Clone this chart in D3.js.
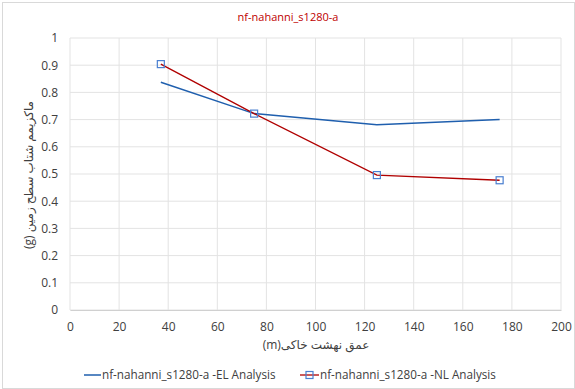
<!DOCTYPE html>
<html>
<head>
<meta charset="utf-8">
<script src="https://cdn.jsdelivr.net/npm/d3@7"></script>
<style>
  body { margin: 0; background: #fff; }
  text { font-family: "Open Sans", "DejaVu Sans", sans-serif; }
</style>
</head>
<body>
<div id="chart"></div>
<script>
const width = 575;
const height = 389;

// datos
const depths = [37, 75, 125, 175];
const elValues = [0.837, 0.722, 0.681, 0.700];
const nlValues = [0.904, 0.722, 0.496, 0.477];
const xTicks = [0, 20, 40, 60, 80, 100, 120, 140, 160, 180, 200];
const yTicks = [0, 0.1, 0.2, 0.3, 0.4, 0.5, 0.6, 0.7, 0.8, 0.9, 1];
const titleText = "nf-nahanni_s1280-a";
const elName = "nf-nahanni_s1280-a -EL Analysis";
const nlName = "nf-nahanni_s1280-a -NL Analysis";

const margin = { left: 70, right: 14, top: 38, bottom: 79 };

const svg = d3.select("#chart")
    .append("svg")
    .attr("width", width)
    .attr("height", height);

// marco exterior
svg.append("rect")
    .attr("x", 2.5).attr("y", 2.5)
    .attr("width", width - 3).attr("height", height - 3)
    .attr("fill", "#fff")
    .attr("stroke", "#d9d9d9");

const x = d3.scaleLinear().domain([0, 200]).range([margin.left, width - margin.right]);
const y = d3.scaleLinear().domain([0, 1]).range([height - margin.bottom, margin.top]);

// rejilla
svg.append("g")
    .selectAll("line.v")
    .data(xTicks)
    .enter()
    .append("line")
    .attr("x1", d => x(d)).attr("x2", d => x(d))
    .attr("y1", y(0)).attr("y2", y(1))
    .attr("stroke", "#e3e3e3");

svg.append("g")
    .selectAll("line.h")
    .data(yTicks)
    .enter()
    .append("line")
    .attr("x1", x(0)).attr("x2", x(200))
    .attr("y1", d => y(d)).attr("y2", d => y(d))
    .attr("stroke", "#e3e3e3");

// ejes
const xAxis = svg.append("g")
    .attr("transform", `translate(0,${y(0)})`)
    .call(d3.axisBottom(x).tickValues(xTicks).tickSize(0).tickPadding(12));
xAxis.select(".domain").attr("stroke", "#d0d0d0");
xAxis.selectAll("text").attr("font-size", 12).attr("fill", "#404040");

const yAxis = svg.append("g")
    .attr("transform", `translate(${x(0)},0)`)
    .call(d3.axisLeft(y).tickValues(yTicks).tickFormat(d => d3.format("")(d)).tickSize(0).tickPadding(12));
yAxis.select(".domain").remove();
yAxis.selectAll("text").attr("font-size", 12).attr("fill", "#404040");

// titulo
svg.append("text")
    .attr("x", 288).attr("y", 21)
    .attr("text-anchor", "middle")
    .attr("font-size", 11)
    .attr("fill", "#c00000")
    .text(titleText);

// titulos de ejes (texto persa, derecha a izquierda)
svg.append("text")
    .attr("x", 316).attr("y", 349)
    .attr("text-anchor", "middle")
    .attr("direction", "rtl")
    .attr("font-size", 12)
    .attr("fill", "#404040")
    .text("عمق نهشت خاکی(m)");

svg.append("text")
    .attr("transform", `translate(33,175) rotate(-90)`)
    .attr("text-anchor", "middle")
    .attr("direction", "rtl")
    .attr("font-size", 12)
    .attr("fill", "#404040")
    .text("ماکزیمم شتاب سطح زمین (g)");

const line = d3.line()
    .x((d, i) => x(depths[i]))
    .y(d => y(d));

svg.append("path")
    .datum(elValues)
    .attr("d", line)
    .attr("fill", "none")
    .attr("stroke", "#1f5fae")
    .attr("stroke-width", 1.5);

svg.append("path")
    .datum(nlValues)
    .attr("d", line)
    .attr("fill", "none")
    .attr("stroke", "#b00000")
    .attr("stroke-width", 1.3);

svg.append("g")
    .selectAll("rect")
    .data(nlValues)
    .enter()
    .append("rect")
    .attr("x", (d, i) => x(depths[i]) - 3.5)
    .attr("y", d => y(d) - 3.5)
    .attr("width", 7).attr("height", 7)
    .attr("fill", "none")
    .attr("stroke", "#4a7fd0")
    .attr("stroke-width", 1.2);

// leyenda
const leg = svg.append("g");
leg.append("line")
    .attr("x1", 84).attr("x2", 101)
    .attr("y1", 375).attr("y2", 375)
    .attr("stroke", "#1f5fae").attr("stroke-width", 1.5);
leg.append("text")
    .attr("x", 102).attr("y", 379)
    .attr("font-size", 11.7).attr("fill", "#404040")
    .text(elName);

leg.append("line")
    .attr("x1", 300).attr("x2", 319)
    .attr("y1", 375).attr("y2", 375)
    .attr("stroke", "#b00000").attr("stroke-width", 1.3);
leg.append("rect")
    .attr("x", 306).attr("y", 371.5)
    .attr("width", 7).attr("height", 7)
    .attr("fill", "none")
    .attr("stroke", "#4a7fd0").attr("stroke-width", 1.2);
leg.append("text")
    .attr("x", 320).attr("y", 379)
    .attr("font-size", 11.7).attr("fill", "#404040")
    .text(nlName);
</script>
</body>
</html>
